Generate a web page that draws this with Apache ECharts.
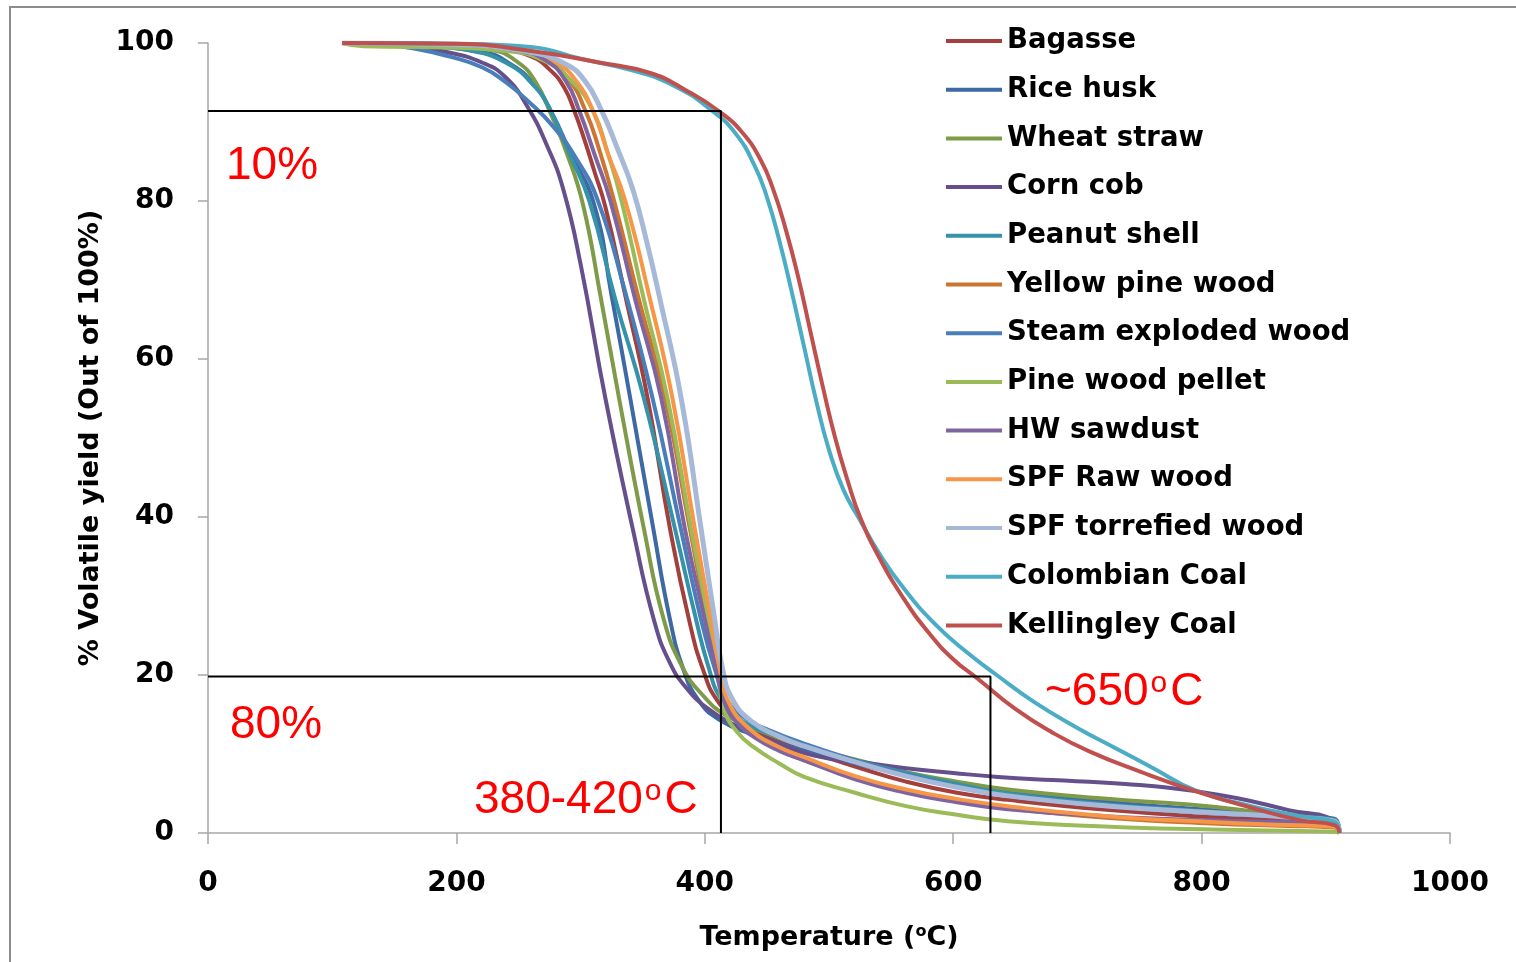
<!DOCTYPE html>
<html>
<head>
<meta charset="utf-8">
<script src="https://cdn.jsdelivr.net/npm/echarts@6/dist/echarts.min.js"></script>
<style>
  html, body { margin: 0; padding: 0; background: #ffffff; }
  #chart { width: 1516px; height: 962px; }
</style>
</head>
<body>
<div id="chart"></div>
<script>
// Thermogravimetric volatile yield curves: [temperature °C, volatile yield %]
const seriesNames = [
  'Bagasse', 'Rice husk', 'Wheat straw', 'Corn cob', 'Peanut shell',
  'Yellow pine wood', 'Steam exploded wood', 'Pine wood pellet', 'HW sawdust',
  'SPF Raw wood', 'SPF torrefied wood', 'Colombian Coal', 'Kellingley Coal'
];
const seriesColors = [
  '#a33f3c', '#3d69a6', '#7f9a48', '#65508c', '#3592a8',
  '#cc7530', '#4a7ebb', '#9bbb59', '#7f64a2',
  '#f79646', '#a6b9d8', '#4bacc6', '#c0504d'
];

const bagasse = [[108,100],[180,99.9],[230,99.4],[260,98.3],[276,96.5],[287,94.3],[295,91.4],[303,87.8],[311,83.8],[320,79.2],[336,68],[354,55],[372,38.5],[388,26.5],[399,20.5],[410,16.8],[428,14],[452,12],[480,10.5],[521,8.4],[562,6.5],[603,5.1],[644,4.2],[726,2.9],[808,2.0],[870,1.6],[907,1.4],[911,0]];
const riceHusk = [[108,100],[170,99.6],[220,98.9],[245,97.2],[262,94.8],[276,91.4],[292,86],[311,79.5],[325,68],[340,55],[358,39],[372,27],[383,20.6],[395,16.8],[412,14.3],[440,12.4],[480,10.4],[521,8.8],[562,7.4],[603,6.3],[644,5.3],[726,3.9],[808,2.9],[870,2.2],[907,1.8],[911,0]];
const wheatStraw = [[108,100],[170,99.8],[228,99.1],[250,97.5],[264,95],[275,91.4],[289,86],[302,79.5],[316,68],[331,55],[351,38.5],[367,27],[382,21],[398,17.5],[418,14.8],[450,12.6],[480,11],[521,9.3],[562,7.7],[603,6.5],[644,5.5],[726,4.3],[790,3.6],[850,2.6],[907,1.6],[911,0]];
const cornCob = [[108,100],[160,99.6],[191,98.9],[221,97.5],[240,95.6],[257,92],[273,87],[286,81.5],[300,72],[320,55],[342,38.5],[359,27],[372,21.5],[386,18.2],[402,15.8],[420,14],[445,12.2],[488,9.8],[530,8.9],[562,8.2],[600,7.6],[636,7.1],[680,6.7],[720,6.4],[747,6.1],[770,5.8],[790,5.4],[829,4.4],[870,2.9],[907,1.6],[911,0]];
const peanutShell = [[108,100],[170,99.7],[209,99.1],[240,97.5],[263,94.5],[276,91.4],[291,86],[307,80],[328,67.5],[351,55],[376,38.5],[393,27],[403,21],[413,17],[430,14.2],[452,12.6],[480,11],[521,9.2],[562,7.6],[603,6.2],[644,5],[726,3.6],[808,2.7],[870,2.1],[907,1.7],[911,0]];
const yellowPineWood = [[108,100],[200,99.8],[250,99],[274,97.6],[290,95.5],[304,91.4],[315,86.5],[327,80],[347,67.5],[368,55],[388,38.5],[402,27],[410,21],[418,16.5],[432,13.3],[452,11.1],[480,9.2],[521,7],[562,5.2],[603,4],[644,3.1],[726,1.9],[808,1.2],[870,0.9],[907,0.7],[911,0]];
const steamExplodedWood = [[108,100],[140,99.8],[166,99.3],[194,98.3],[221,96.9],[240,95],[258,92.6],[277,89.6],[296,85.5],[314,80],[335,69],[358,55],[380,39],[397,27],[408,20.8],[418,16.8],[435,14.3],[452,13],[480,11.3],[521,9.2],[562,7.4],[603,5.9],[644,4.7],[726,3.4],[808,2.5],[870,2],[907,1.6],[911,0]];
const pineWoodPellet = [[108,100],[125,99.6],[200,99.4],[240,99],[270,97.8],[292,95.3],[310,91.4],[322,86],[333,80],[351,67.5],[370,55],[389,38.5],[403,27],[410,20.5],[416,15.5],[426,12.8],[440,10.8],[460,8.8],[480,7.1],[521,5.1],[562,3.4],[603,2.3],[644,1.5],[726,0.8],[808,0.45],[907,0.15],[911,0]];
const hwSawdust = [[108,100],[200,99.8],[250,99],[272,97.8],[288,95.2],[299,91.4],[311,86],[324,80],[344,67.5],[365,55],[384,38.5],[400,27],[409,20.8],[416,16.5],[426,14],[440,12.1],[460,10.4],[480,9.2],[521,6.8],[562,5.1],[603,3.9],[644,3.0],[726,2.1],[808,1.6],[870,1.4],[907,1.3],[911,0]];
const spfRawWood = [[108,100],[200,99.8],[260,99],[280,97.6],[296,95.3],[310,91.4],[322,86],[336,80],[356,67.5],[374,55],[392,38.5],[405,27],[412,20.8],[420,16.3],[436,13.2],[458,11],[480,9.6],[521,7.2],[562,5.5],[603,4.3],[644,3.4],[726,2.1],[808,1.4],[870,1],[907,0.8],[911,0]];
const spfTorrefiedWood = [[108,100],[200,99.8],[260,98.8],[287,97.4],[303,95.3],[317,91.4],[330,86.5],[342,81.5],[353,75],[364,67.5],[381,55],[397,38.5],[408,27],[414,21],[422,17],[438,14.1],[460,12.2],[480,11],[521,9],[562,7.2],[603,5.8],[644,4.7],[726,3.4],[808,2.6],[870,2],[907,1.5],[911,0]];
const colombianCoal = [[108,100],[200,99.9],[260,99.5],[300,98],[340,96.6],[375,94.6],[406,91.4],[425,88.5],[440,84.5],[450,80.5],[460,75],[470,68.5],[480,61.5],[490,54.5],[500,48.5],[512,43.3],[525,39.6],[540,35.5],[560,31],[585,26.5],[610,23],[635,20],[665,16.6],[700,13.3],[730,10.8],[760,8.3],[795,5.4],[840,3.4],[880,2.1],[907,1.4],[911,0]];
const kellingleyCoal = [[108,100],[200,99.9],[260,99],[316,97.5],[356,96.2],[385,94],[412,91.3],[430,88.7],[445,85.2],[455,81.5],[465,76.5],[475,70.5],[485,63.5],[495,56.5],[505,50],[515,44.6],[525,40],[540,35],[560,29.7],[580,25.4],[600,22],[620,19.5],[650,15.7],[680,12.7],[710,10.3],[750,7.8],[795,5.3],[840,3.2],[880,1.6],[907,1.0],[911,0]];

const seriesData = [
  bagasse, riceHusk, wheatStraw, cornCob, peanutShell,
  yellowPineWood, steamExplodedWood, pineWoodPellet, hwSawdust,
  spfRawWood, spfTorrefiedWood, colombianCoal, kellingleyCoal
];

// Guide lines: 10% and 80% conversion levels with their temperatures
const guideTop = [[0, 91.4], [413, 91.4], [413, 0]];
const guideBottom = [[0, 19.8], [630, 19.8], [630, 0]];

const xRange = [0, 1000], xStep = 200;
const yRange = [0, 100], yStep = 20;

const axisGray = '#a6a6a6';
const boldFont = { fontFamily: 'DejaVu Sans', fontWeight: 'bold', color: '#000' };
const noteFont = '"Liberation Sans", Arial, sans-serif';

const chart = echarts.init(document.getElementById('chart'), null, { renderer: 'canvas' });

const curveSeries = seriesNames.map((name, i) => ({
  name: name,
  type: 'line',
  data: seriesData[i],
  smooth: 0.5,
  symbol: 'none',
  showSymbol: false,
  color: seriesColors[i],
  lineStyle: { width: name === 'SPF torrefied wood' ? 5 : 4, color: seriesColors[i] },
  z: 2 + i * 0.01
}));

const guideSeries = [guideTop, guideBottom].map((d, i) => ({
  name: 'guide' + i,
  type: 'line',
  data: d,
  symbol: 'none',
  showSymbol: false,
  silent: true,
  lineStyle: { width: 2, color: '#000' },
  z: 5
}));

const supRich = {
  n: { fontSize: 46, lineHeight: 46, fontFamily: noteFont, color: '#ff0000' },
  s: { fontSize: 30, lineHeight: 30, verticalAlign: 'top', padding: [0, 3, 0, 2], fontFamily: noteFont, color: '#ff0000' }
};

function note(x, y, text) {
  return {
    type: 'text',
    z: 10,
    style: {
      x: x, y: y, text: text,
      fontSize: 46, lineHeight: 46, fontFamily: noteFont,
      fill: '#ff0000', align: 'left', verticalAlign: 'middle',
      rich: supRich
    }
  };
}

chart.setOption({
  animation: false,
  backgroundColor: '#ffffff',
  grid: { left: 208, right: 66, top: 43, bottom: 129 },
  legend: {
    data: seriesNames,
    orient: 'vertical',
    left: 946,
    top: 26,
    padding: 0,
    itemWidth: 56,
    itemHeight: 4,
    itemGap: 18.7,
    icon: 'rect',
    textStyle: { fontFamily: 'DejaVu Sans', fontWeight: 'bold', fontSize: 27.5, lineHeight: 30, color: '#000' }
  },
  xAxis: {
    type: 'value',
    min: xRange[0], max: xRange[1], interval: xStep,
    splitLine: { show: false },
    axisLine: { show: true, lineStyle: { color: axisGray, width: 1.5 } },
    axisTick: { show: true, length: 11, lineStyle: { color: axisGray, width: 1.5 } },
    axisLabel: Object.assign({ fontSize: 28, margin: 37, formatter: v => String(v) }, boldFont),
    name: 'Temperature ({s|o}C)',
    nameLocation: 'middle',
    nameGap: 91,
    nameTextStyle: Object.assign({
      fontSize: 27,
      rich: { s: { fontFamily: 'DejaVu Sans', fontWeight: 'bold', fontSize: 16, lineHeight: 16, verticalAlign: 'top', color: '#000' } }
    }, boldFont)
  },
  yAxis: {
    type: 'value',
    min: yRange[0], max: yRange[1], interval: yStep,
    splitLine: { show: false },
    axisLine: { show: true, lineStyle: { color: axisGray, width: 1.5 } },
    axisTick: { show: true, length: 10, lineStyle: { color: axisGray, width: 1.5 } },
    axisLabel: Object.assign({ fontSize: 28, margin: 34, formatter: v => String(v) }, boldFont),
    name: '% Volatile yield (Out of 100%)',
    nameLocation: 'middle',
    nameRotate: 90,
    nameGap: 102,
    nameTextStyle: Object.assign({ fontSize: 27 }, boldFont)
  },
  series: curveSeries.concat(guideSeries),
  graphic: [
    {
      type: 'rect', z: 0, silent: true,
      shape: { x: 10, y: 7, width: 1700, height: 1100 },
      style: { fill: 'none', stroke: '#8c8c8c', lineWidth: 2 }
    },
    note(226, 166, '10%'),
    note(230, 725, '80%'),
    note(474, 800, '{n|380-420}{s|o}{n|C}'),
    note(1045, 692, '{n|~650}{s|o}{n|C}')
  ]
});
</script>
</body>
</html>
